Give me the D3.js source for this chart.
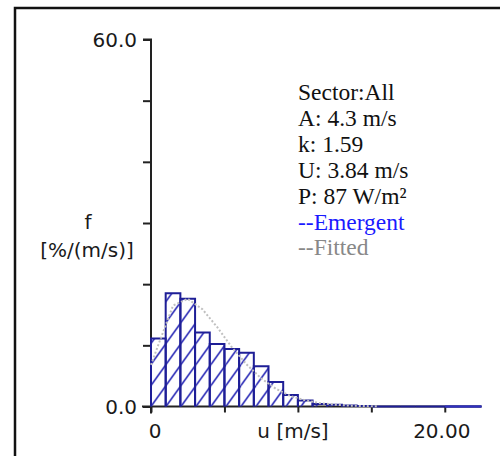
<!DOCTYPE html>
<html>
<head>
<meta charset="utf-8">
<script src="https://cdn.jsdelivr.net/npm/d3@7"></script>
<style>
  body { margin: 0; background: #fff; }
  svg { display: block; }
</style>
</head>
<body>
<svg></svg>
<script>
// emergent histogram, 1 m/s bins starting at 0
var emergent = [11.1, 18.5, 17.6, 12.1, 10.2, 9.4, 8.8, 6.6, 4.0, 1.9, 1.0, 0.4, 0.3, 0.15, 0.1, 0, 0, 0, 0, 0, 0, 0, 0];
// fitted curve, read at bin centres
var fittedU = [0, 0.5, 1.5, 2.5, 3.5, 4.5, 5.5, 6.5, 7.5, 8.5, 9.5, 10.5, 11.5, 12.5, 13.5, 14.5, 15.5];
var fitted = [6.8, 10.1, 16.5, 17.6, 15.9, 13.0, 9.7, 6.9, 4.6, 2.9, 1.7, 1.0, 0.55, 0.3, 0.15, 0.07, 0.03];
var xTicks = [0, 5, 10, 15, 20];
var yTicks = [0, 10, 20, 30, 40, 50, 60];
var infoLines = ['Sector:All', 'A: 4.3 m/s', 'k: 1.59', 'U: 3.84 m/s', 'P: 87 W/m\u00B2'];
var legendLines = ['--Emergent', '--Fitted'];

var width = 500, height = 456;
var svg = d3.select('svg').attr('width', width).attr('height', height);

var x = d3.scaleLinear().domain([0, 22.5]).range([151, 481.5]);
var y = d3.scaleLinear().domain([0, 60]).range([406.5, 39.5]);

// outer frame
svg.append('rect')
    .attr('x', 15).attr('y', 8)
    .attr('width', 520).attr('height', 480)
    .attr('fill', 'none')
    .attr('stroke', '#111')
    .attr('stroke-width', 2.5);

// diagonal hatch for the bars
var pat = svg.append('defs').append('pattern')
    .attr('id', 'hatch')
    .attr('patternUnits', 'userSpaceOnUse')
    .attr('x', 151).attr('y', 406.5)
    .attr('width', 15).attr('height', 21);
[-15, 0, 15].forEach(function(dx) {
  pat.append('line')
      .attr('x1', dx).attr('y1', 21).attr('x2', dx + 15).attr('y2', 0)
      .attr('stroke', '#3030b8').attr('stroke-width', 1.6);
});

// axes
var xAxis = svg.append('g')
    .attr('transform', 'translate(0,' + y(0) + ')')
    .call(d3.axisBottom(x).tickValues(xTicks).tickSize(6).tickFormat(''));
xAxis.select('.domain').attr('d', 'M' + (x(0) - 9) + ',0H' + x(22.5));

var yAxis = svg.append('g')
    .attr('transform', 'translate(' + x(0) + ',0)')
    .call(d3.axisLeft(y).tickValues(yTicks).tickSize(8).tickFormat(''));
yAxis.select('.domain').attr('d', 'M-8,' + y(60) + 'H0V' + (y(0) + 7));

svg.selectAll('.domain, .tick line')
    .attr('stroke', '#222')
    .attr('stroke-width', 2);

// bars
var binEnd = i => Math.min(i + 1, 22.5);

svg.append('g').selectAll('rect')
    .data(emergent)
  .enter()
  .append('rect')
    .attr('x', (d, i) => x(i))
    .attr('y', d => y(d))
    .attr('width', (d, i) => x(binEnd(i)) - x(i))
    .attr('height', d => y(0) - y(d))
    .attr('fill', 'url(#hatch)');

svg.append('g').selectAll('path')
    .data(emergent)
  .enter()
  .append('path')
    .attr('d', (d, i) => 'M' + x(i) + ',' + y(0) + 'V' + y(d) + 'H' + x(binEnd(i)) + 'V' + y(0))
    .attr('fill', 'none')
    .attr('stroke', '#1e1e96')
    .attr('stroke-width', 2);

svg.append('line')
    .attr('x1', x(20)).attr('x2', x(22.5))
    .attr('y1', y(0)).attr('y2', y(0))
    .attr('stroke', '#3030c0').attr('stroke-width', 2);

// fitted
svg.append('path')
    .datum(fittedU.map((u, i) => [u, fitted[i]]))
    .attr('d', d3.line().x(d => x(d[0])).y(d => y(d[1])))
    .attr('fill', 'none')
    .attr('stroke', '#c0c0c0')
    .attr('stroke-width', 2)
    .attr('stroke-dasharray', '2,2');

// tick labels and axis titles
var sans = 'DejaVu Sans, Verdana, sans-serif';
function label(txt, px, py, anchor) {
  svg.append('text').text(txt)
      .attr('x', px).attr('y', py)
      .attr('text-anchor', anchor)
      .style('font-family', sans)
      .style('font-size', '20px')
      .attr('fill', '#1a1a1a');
}
label('60.0', 137, y(60) + 7, 'end');
label('0.0', 137, y(0) + 7, 'end');
label('0', x(0) + 4, 438, 'middle');
label('20.00', x(20) - 3, 438, 'middle');
label('u [m/s]', 293, 438, 'middle');
label('f', 88, 229, 'middle');
label('[%/(m/s)]', 87, 257, 'middle');

// info block
var serif = 'Liberation Serif, Times New Roman, serif';
svg.append('g').selectAll('text')
    .data(infoLines.concat(legendLines))
  .enter()
  .append('text')
    .text(d => d)
    .attr('x', 298)
    .attr('y', (d, i) => 100 + i * 25.9)
    .attr('fill', (d, i) => i < infoLines.length ? '#111' : (i === infoLines.length ? '#1a1aff' : '#888'))
    .style('font-family', serif)
    .style('font-size', '23.5px');
</script>
</body>
</html>
